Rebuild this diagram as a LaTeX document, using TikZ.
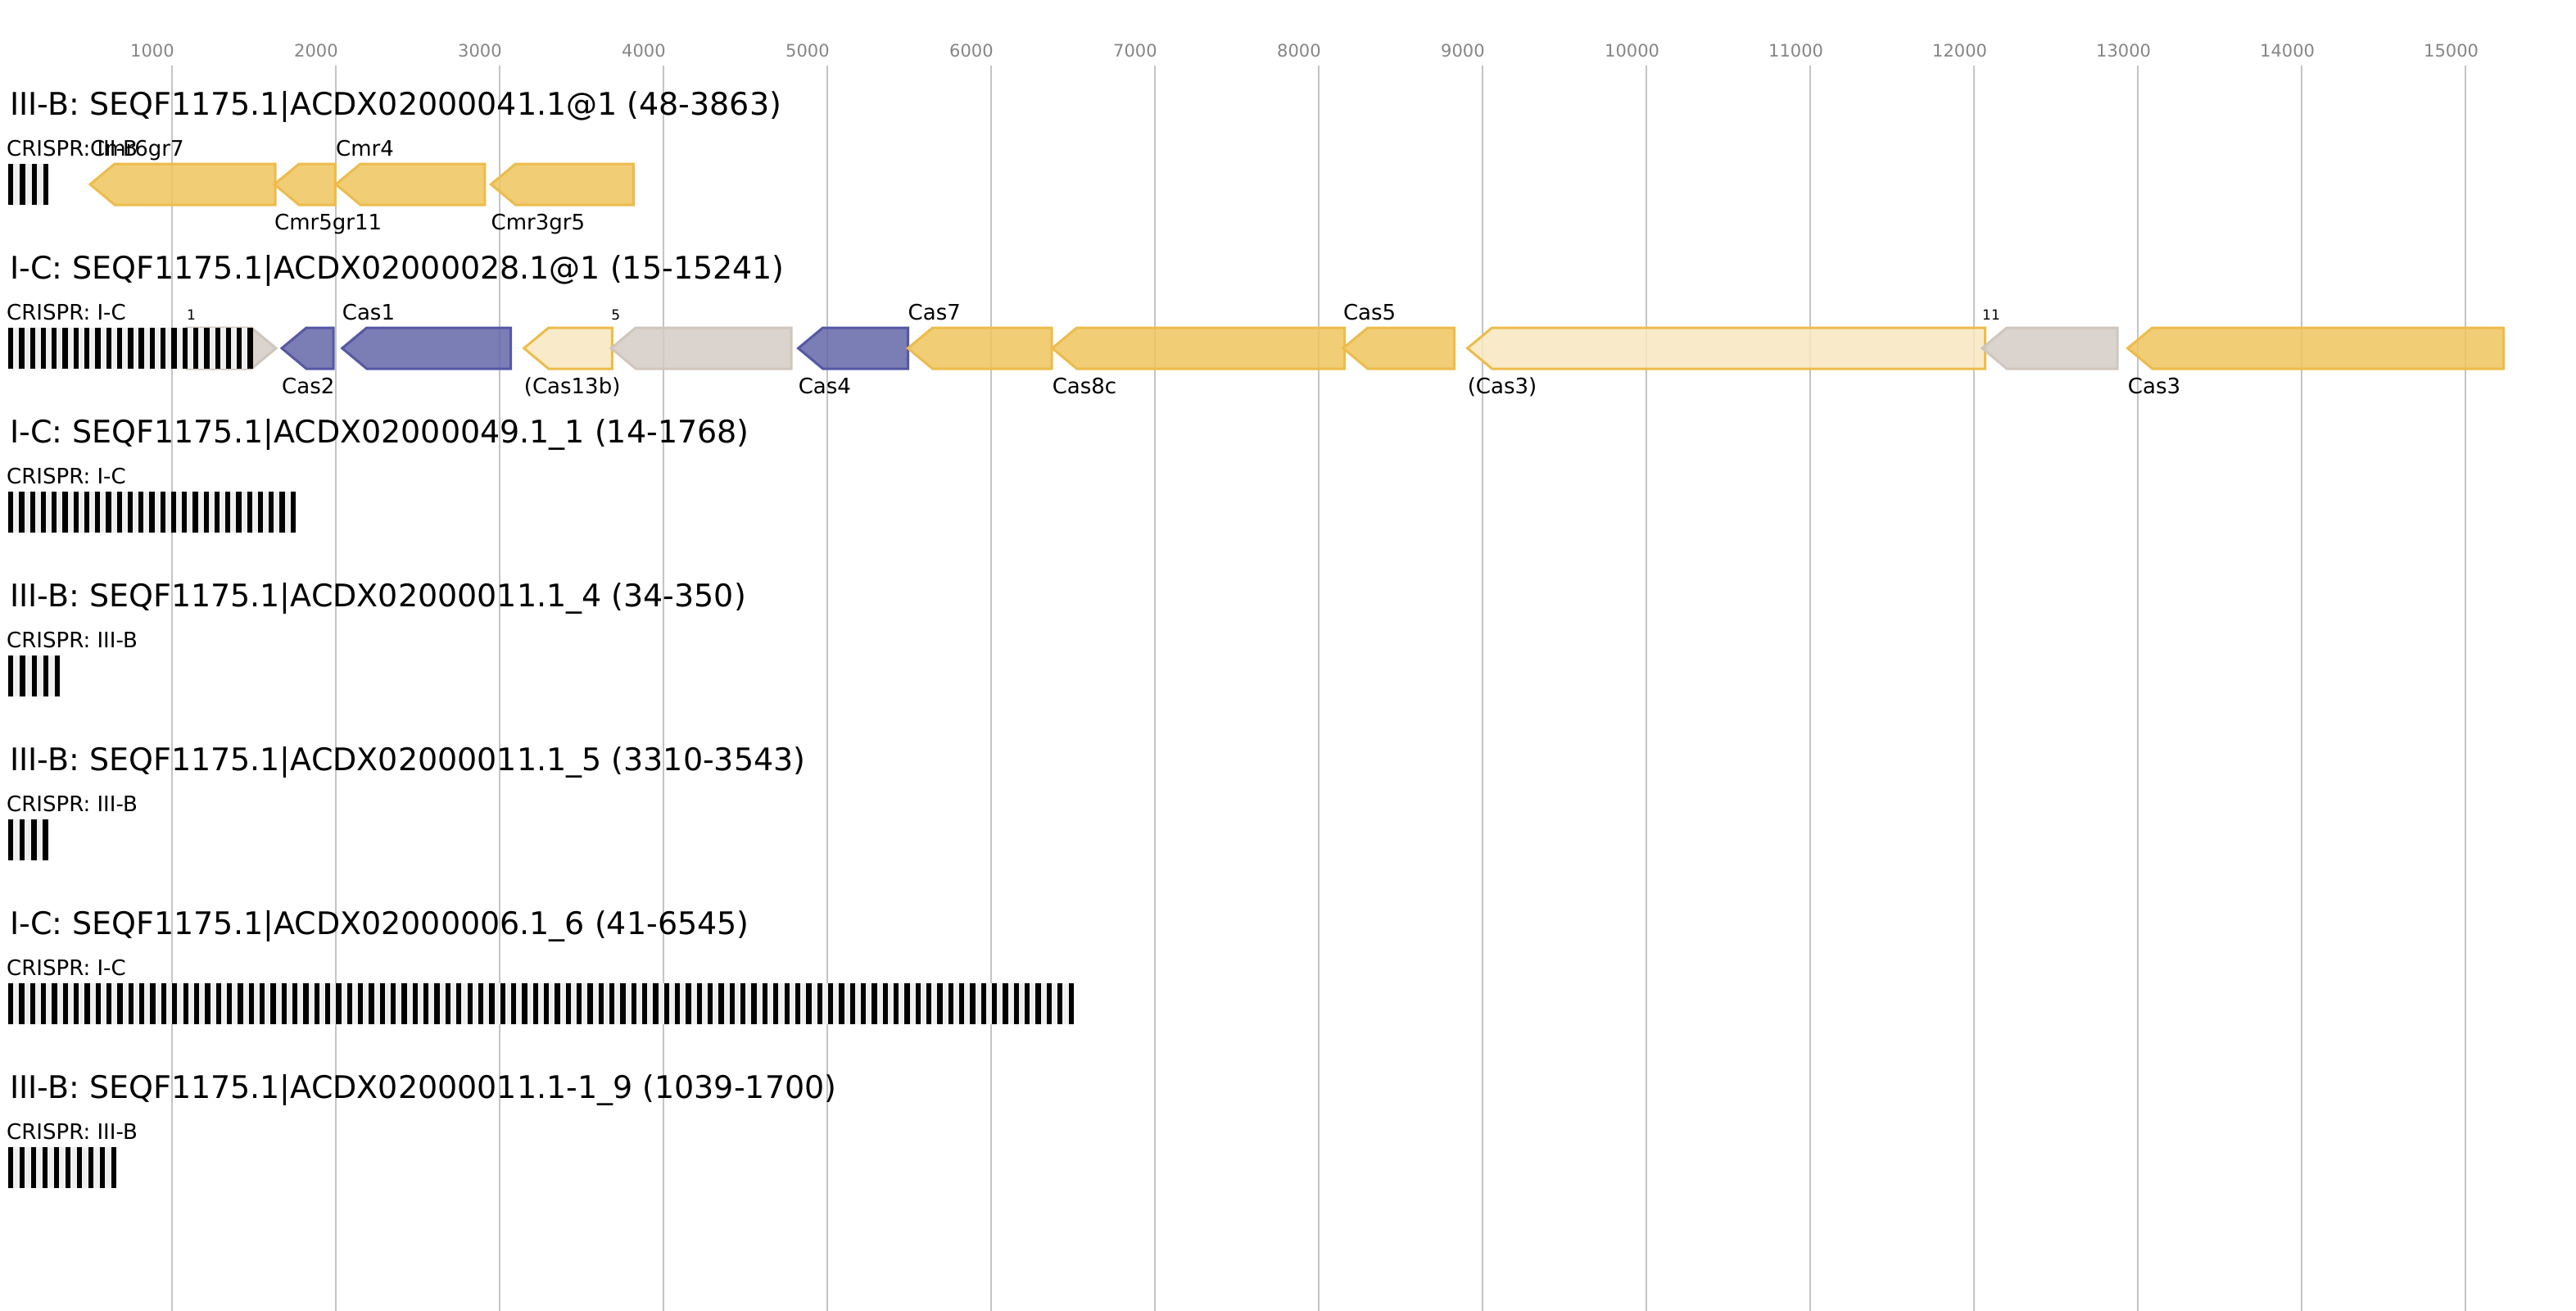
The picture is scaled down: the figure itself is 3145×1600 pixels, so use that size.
\documentclass[tikz,border=0pt]{standalone}
\usepackage{fontspec}
\setmainfont{DejaVu Sans}
\definecolor{gridc}{HTML}{C4C4C4}
\definecolor{axisc}{HTML}{858585}
\definecolor{yelF}{HTML}{EEC45E}
\definecolor{yelD}{HTML}{EDBC4A}
\definecolor{bluF}{HTML}{6466A8}
\definecolor{bluD}{HTML}{5558A5}
\definecolor{gryF}{HTML}{D5CBC4}
\definecolor{gryD}{HTML}{D0C6BD}
\definecolor{ltyF}{HTML}{F8E8C0}
\definecolor{arrBg}{HTML}{EFEFEF}
\tikzset{
  titletxt/.style={anchor=base west, inner sep=0, font=\fontsize{38}{40}\selectfont},
  lab/.style={anchor=base west, inner sep=0, font=\fontsize{26}{28}\selectfont},
  numlab/.style={anchor=base west, inner sep=0, font=\fontsize{17}{18}\selectfont},
  axl/.style={anchor=base west, inner sep=0, text=axisc, font=\fontsize{21}{22}\selectfont},
  gridln/.style={draw=gridc, line width=2},
  genebase/.style={line width=3, line join=miter, fill opacity=0.85},
  yelgene/.style={genebase, fill=yelF, draw=yelD},
  blugene/.style={genebase, fill=bluF, draw=bluD},
  grygene/.style={genebase, fill=gryF, draw=gryD},
  ltygene/.style={genebase, fill=ltyF, draw=yelD},
}
% left-pointing gene: #1 name, #2 tip x, #3 right x, #4 top y, #5 style
\newcommand\geneL[5]{%
  \path[#5] (#2,#4+25) -- (#2+30,#4) -- (#3,#4) -- (#3,#4+50) -- (#2+30,#4+50) -- cycle;
  \coordinate (#1) at (#2,#4+25);}
% right-pointing gene
\newcommand\geneR[5]{%
  \path[#5] (#2,#4) -- (#3-30,#4) -- (#3,#4+25) -- (#3-30,#4+50) -- (#2,#4+50) -- cycle;
  \coordinate (#1) at (#2,#4+25);}
% CRISPR array: #1 name, #2 top y, #3 end x, #4 number of repeats
\newcommand\crarray[4]{%
  \fill[arrBg] (10,#2) rectangle (#3,#2+50);
  \pgfmathsetmacro\crper{(#3-6.3-10)/(#4-1)}
  \foreach \i in {1,...,#4} {\fill[black] ({10+(\i-1)*\crper},#2) rectangle ++(6.3,50);}
  \coordinate (#1) at (10,#2+25);}
\begin{document}
\begin{tikzpicture}[x=1pt,y=-1pt]
\useasboundingbox (0,0) rectangle (3145,1600);
% grid and axis
\foreach \k in {1000,2000,...,15000} {
  \pgfmathsetmacro\gx{10+0.2*\k}
  \draw[gridln] (\gx,80) -- (\gx,1600);
  \node[axl] (ax\k) at (\gx-51,70) {\k};
}
% ---------- track 1 ----------
\node[titletxt] (t1) at (12,140) {III-B: SEQF1175.1|ACDX02000041.1@1 (48-3863)};
\node[lab] (c1) at (8,190) {CRISPR: III-B};
\crarray{a1}{200}{59.3}{4}
\geneL{g1a}{110}{336}{200}{yelgene}
\geneL{g1b}{335}{409.4}{200}{yelgene}
\geneL{g1c}{410}{591.8}{200}{yelgene}
\geneL{g1d}{599.5}{773.6}{200}{yelgene}
\node[lab] (l1a) at (110,190) {Cmr6gr7};
\node[lab] (l1b) at (335,280) {Cmr5gr11};
\node[lab] (l1c) at (410,190) {Cmr4};
\node[lab] (l1d) at (599.5,280) {Cmr3gr5};
% ---------- track 2 ----------
\node[titletxt] (t2) at (12,340) {I-C: SEQF1175.1|ACDX02000028.1@1 (15-15241)};
\node[lab] (c2) at (8,390) {CRISPR: I-C};
\geneR{g2a}{228}{337}{400}{grygene}
\crarray{a2}{400}{308.7}{23}
\geneL{g2b}{344}{407}{400}{blugene}
\geneL{g2c}{417.7}{623.7}{400}{blugene}
\geneL{g2d}{639.7}{747.4}{400}{ltygene}
\geneL{g2e}{746.2}{966.2}{400}{grygene}
\geneL{g2f}{974.6}{1108.5}{400}{blugene}
\geneL{g2g}{1108.5}{1284}{400}{yelgene}
\geneL{g2h}{1284.6}{1641.7}{400}{yelgene}
\geneL{g2i}{1639.8}{1775.6}{400}{yelgene}
\geneL{g2j}{1791.6}{2423.6}{400}{ltygene}
\geneL{g2k}{2420}{2585}{400}{grygene}
\geneL{g2l}{2597.7}{3056.6}{400}{yelgene}
\node[numlab] (l2a) at (228,390) {1};
\node[lab] (l2b) at (344,480) {Cas2};
\node[lab] (l2c) at (417.7,390) {Cas1};
\node[lab] (l2d) at (639.7,480) {(Cas13b)};
\node[numlab] (l2e) at (746.2,390) {5};
\node[lab] (l2f) at (974.6,480) {Cas4};
\node[lab] (l2g) at (1108.5,390) {Cas7};
\node[lab] (l2h) at (1284.6,480) {Cas8c};
\node[lab] (l2i) at (1639.8,390) {Cas5};
\node[lab] (l2j) at (1791.6,480) {(Cas3)};
\node[numlab] (l2k) at (2420,390) {11};
\node[lab] (l2l) at (2597.7,480) {Cas3};
% ---------- track 3 ----------
\node[titletxt] (t3) at (12,540) {I-C: SEQF1175.1|ACDX02000049.1\_1 (14-1768)};
\node[lab] (c3) at (8,590) {CRISPR: I-C};
\crarray{a3}{600}{361}{27}
% ---------- track 4 ----------
\node[titletxt] (t4) at (12,740) {III-B: SEQF1175.1|ACDX02000011.1\_4 (34-350)};
\node[lab] (c4) at (8,790) {CRISPR: III-B};
\crarray{a4}{800}{73.3}{5}
% ---------- track 5 ----------
\node[titletxt] (t5) at (12,940) {III-B: SEQF1175.1|ACDX02000011.1\_5 (3310-3543)};
\node[lab] (c5) at (8,990) {CRISPR: III-B};
\crarray{a5}{1000}{58.6}{4}
% ---------- track 6 ----------
\node[titletxt] (t6) at (12,1140) {I-C: SEQF1175.1|ACDX02000006.1\_6 (41-6545)};
\node[lab] (c6) at (8,1190) {CRISPR: I-C};
\crarray{a6}{1200}{1310.8}{98}
% ---------- track 7 ----------
\node[titletxt] (t7) at (12,1340) {III-B: SEQF1175.1|ACDX02000011.1-1\_9 (1039-1700)};
\node[lab] (c7) at (8,1390) {CRISPR: III-B};
\crarray{a7}{1400}{142.2}{10}
\end{tikzpicture}
\end{document}
